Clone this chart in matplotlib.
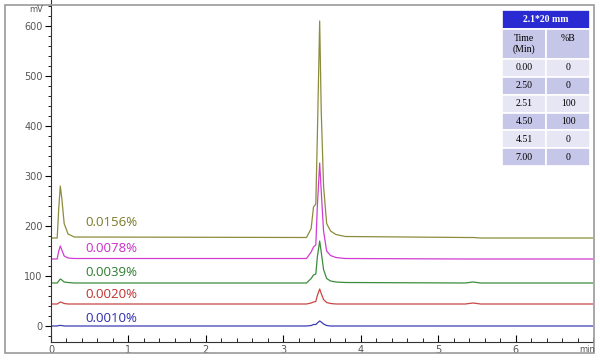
import matplotlib
matplotlib.use("Agg")
import matplotlib.pyplot as plt
from matplotlib.patches import Rectangle
from matplotlib.ticker import MultipleLocator

# retention time points (min)
time = [0.00, 0.08, 0.10, 0.12, 0.14, 0.17, 0.22, 0.30, 3.30, 3.36, 3.39, 3.42,
        3.44, 3.47, 3.49, 3.52, 3.56, 3.61, 3.68, 3.80, 5.35, 5.45, 5.55, 7.00]

sig_0156 = [176, 176, 235, 280, 255, 205, 184, 178, 177, 195, 238, 244,
            380, 610, 430, 280, 205, 190, 183, 179, 177, 177, 176, 176]
sig_0078 = [134, 134, 150, 160, 152, 140, 136, 135, 135, 148, 158, 162,
            240, 326, 270, 190, 150, 141, 137, 135, 134, 134, 134, 134]
sig_0039 = [86, 86, 90, 94, 92, 88, 87, 86, 86, 95, 102, 104,
            138, 170, 148, 113, 95, 90, 88, 87, 86, 88, 86, 86]
sig_0020 = [44, 44, 46, 48, 47, 45, 44, 44, 44, 46, 48, 49,
            61, 74, 65, 53, 47, 45, 44, 44, 44, 46, 44, 44]
sig_0010 = [0, 0, 1, 1, 1, 0, 0, 0, 0, 1, 3, 3,
            6, 10, 8, 4, 1, 0, 0, 0, 0, 0, 0, 0]

labels = ["0.0156%", "0.0078%", "0.0039%", "0.0020%", "0.0010%"]
label_y = [206, 154, 108, 62, 16]
colors = ["#8c8c3c", "#d23cd2", "#3c8c3c", "#c84646", "#3c3cb4"]
text_colors = ["#7a7a28", "#cc2ccc", "#2e7d2e", "#c03030", "#2c2cb0"]

# gradient table
tab_title = "2.1*20 mm"
tab_cols = ["Time\n(Min)", "%B\n"]
tab_time = ["0.00", "2.50", "2.51", "4.50", "4.51", "7.00"]
tab_b = ["0", "0", "100", "100", "0", "0"]

fig = plt.figure(figsize=(6, 3.6), dpi=100)
ax = fig.add_axes([51/600, 1 - 342/360, 542/600, 342/360])

series = [sig_0156, sig_0078, sig_0039, sig_0020, sig_0010]
for s, c in zip(series, colors):
    ax.plot(time, s, color=c, lw=0.9)
for lab, y, c in zip(labels, label_y, text_colors):
    ax.text(0.45, y, lab, color=c, fontsize=9.5, family="Open Sans", va="center")

ax.set_xlim(0, 7)
ax.set_ylim(-32, 652)
ax.spines["top"].set_visible(False)
ax.spines["right"].set_visible(False)
ax.spines["left"].set_color("#333333")
ax.spines["bottom"].set_color("#333333")
ax.xaxis.set_major_locator(MultipleLocator(1))
ax.xaxis.set_minor_locator(MultipleLocator(0.2))
ax.yaxis.set_major_locator(MultipleLocator(100))
ax.yaxis.set_minor_locator(MultipleLocator(20))
ax.tick_params(axis="x", which="major", direction="in", length=5, labelsize=7,
               labelcolor="#555555", pad=2)
ax.tick_params(axis="x", which="minor", direction="in", length=3)
ax.tick_params(axis="y", which="major", direction="out", length=4, labelsize=7,
               labelcolor="#555555", pad=2)
ax.tick_params(axis="y", which="minor", direction="out", length=2)
ax.set_xticks(range(7))

fig.text(36/600, 1 - 9/360, "mV", fontsize=6, color="#555555", ha="center", va="center")
fig.text(587/600, 1 - 350/360, "min", fontsize=6, color="#555555", ha="center", va="center")

# outer frame
fig.patches.append(Rectangle((5/600, 1 - 353/360), 589/600, 348/360, transform=fig.transFigure,
                             fill=False, edgecolor="#999999", lw=1.2))

# table
tax = fig.add_axes([502/600, 1 - 166/360, 88/600, 156/360])
tax.axis("off")
h_title = 19/156
h_head = 30/156
h_data = 107/156

t1 = tax.table(cellText=[[tab_title]], bbox=[0, 1 - h_title, 1, h_title], cellLoc="center")
c = t1[0, 0]
c.set_facecolor("#2a2ad2")
c.get_text().set_color("white")
c.get_text().set_fontweight("bold")

t2 = tax.table(cellText=[tab_cols], bbox=[0, h_data, 1, h_head], cellLoc="center")
for j in range(2):
    t2[0, j].set_facecolor("#c6c6e8")

rows = [[a, b] for a, b in zip(tab_time, tab_b)]
t3 = tax.table(cellText=rows, bbox=[0, 0, 1, h_data], cellLoc="center")
for i in range(len(rows)):
    for j in range(2):
        t3[i, j].set_facecolor("#e6e6f4" if i % 2 == 0 else "#c6c6e8")

for t in (t1, t2, t3):
    t.auto_set_font_size(False)
    t.set_fontsize(7)
    for cell in t.get_celld().values():
        cell.get_text().set_family("Liberation Serif")
        cell.set_edgecolor("white")
        cell.set_linewidth(1.2)

fig.savefig("out.png", dpi=100)
